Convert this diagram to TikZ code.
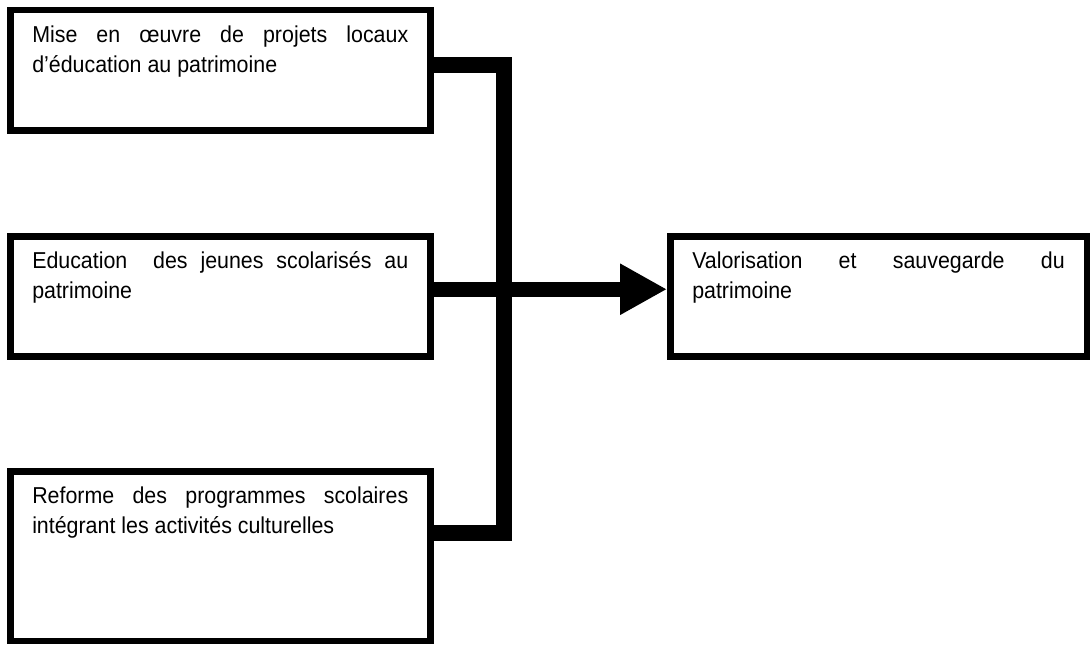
\documentclass[tikz,border=0pt]{standalone}
\usepackage{fontspec}
\setmainfont{Liberation Sans}
\newfontfamily\boxfont[FakeStretch=0.93]{Liberation Sans}
\usepackage{xcolor}
\usetikzlibrary{arrows.meta}
\hyphenpenalty=10000
\exhyphenpenalty=10000
\tolerance=10000

\begin{document}
\begin{tikzpicture}[x=0.5pt,y=0.5pt,
    box/.style={draw,line width=3.25pt,anchor=north west,
      inner xsep=11pt,inner ysep=8pt,text width=#1,align=justify,
      text height=8.25pt,
      font=\boxfont\fontsize{11.5pt}{15pt}\selectfont},
    bar/.style={line width=7.75pt,line join=miter}]
  \useasboundingbox (0,0) rectangle (1090,644);
  \node[box=188pt,text depth=35.75pt] (mise) at (7,637)
    {Mise en œuvre de projets locaux d’éducation au patrimoine};
  \node[box=188pt,text depth=35.75pt] (educ) at (7,411)
    {Education\ \ des jeunes scolarisés au patrimoine};
  \node[box=188pt,text depth=60.5pt] (reforme) at (7,176)
    {Reforme des programmes scolaires intégrant les activités culturelles};
  \node[box=186.25pt,text depth=35.75pt] (valor) at (667,411)
    {Valorisation et sauvegarde du patrimoine};
  % bus
  \coordinate (bustop) at (504,579);
  \coordinate (busbot) at (504,111);
  \draw[bar] (mise.east |- bustop) -- (bustop) -- (busbot)
    -- (reforme.east |- busbot);
  \draw[bar,-{Triangle[length=23.5pt,width=24pt]}]
    ([yshift=3.5pt]educ.east) -- ([yshift=3.5pt]valor.west);
\end{tikzpicture}
\end{document}
